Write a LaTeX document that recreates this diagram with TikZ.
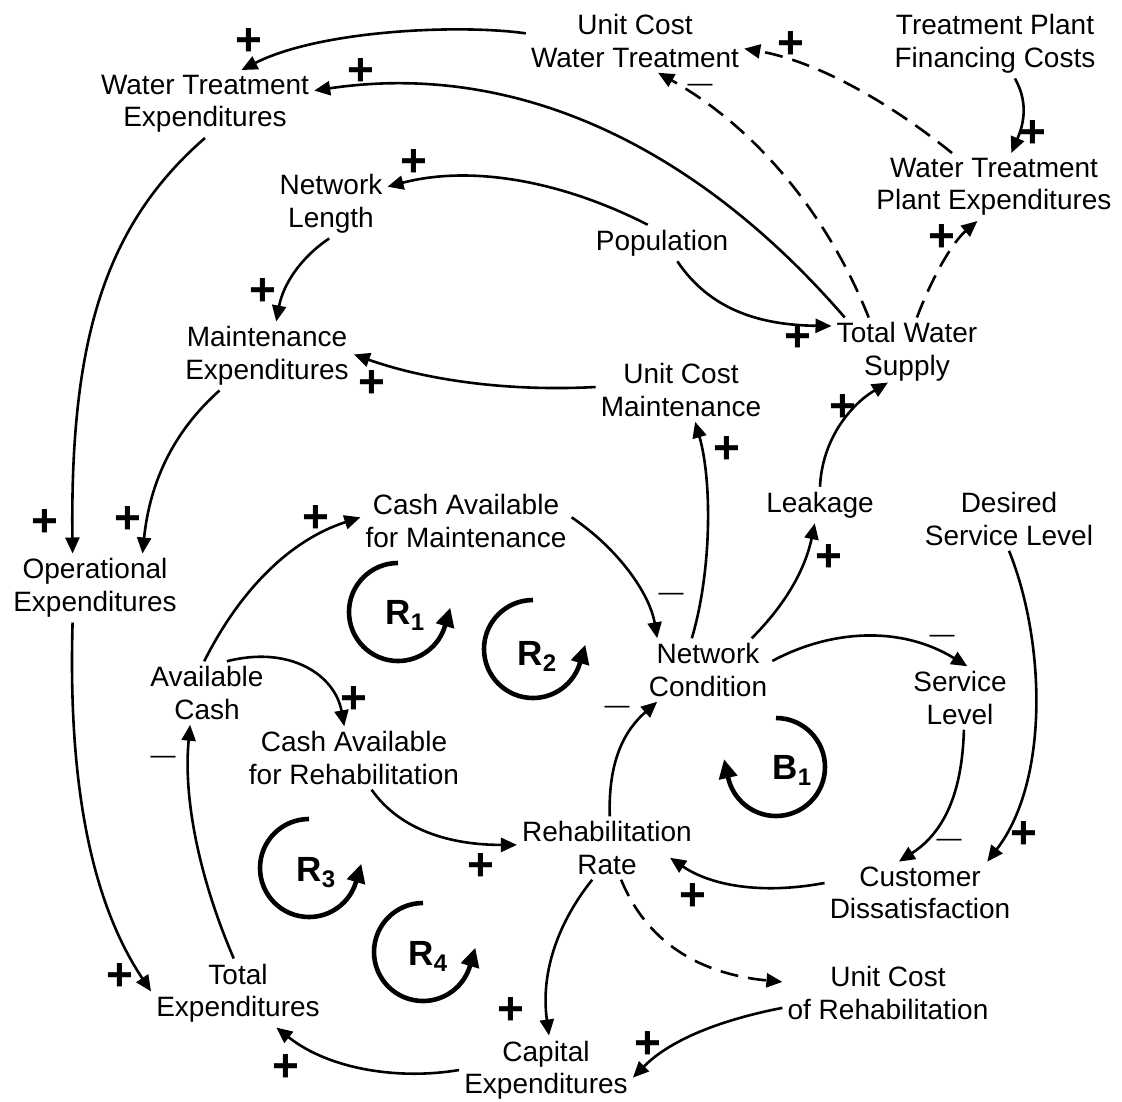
\documentclass[tikz,border=0pt]{standalone}
\usepackage{fontspec}
\setmainfont{Liberation Sans}
\usetikzlibrary{arrows.meta}
\begin{document}
\begin{tikzpicture}[x=1pt,y=-1pt,
  var/.style={align=center, inner sep=5pt, font=\fontsize{28}{32.5}\selectfont},
  link/.style={line width=2.6pt, -{Triangle[length=16pt,width=14pt]}},
  delay/.style={link, dash pattern=on 18pt off 10pt},
  plussign/.style={font=\fontsize{46}{46}\selectfont\bfseries, inner sep=0pt},
  minussign/.style={font=\fontsize{25}{25}\selectfont, inner sep=0pt},
  loopline/.style={line width=4.6pt, -{Triangle[length=19pt,width=18pt]}},
  looplabel/.style={font=\fontsize{35}{35}\selectfont\bfseries, inner sep=0pt}]
\useasboundingbox (0,0) rectangle (1122,1101);

% variables
\node[var] (wte)  at (205,104)  {Water Treatment\\Expenditures};
\node[var] (ucwt) at (635,41)   {Unit Cost\\Water Treatment};
\node[var] (tpfc) at (995,44)   {Treatment Plant\\Financing Costs};
\node[var] (wtpe) at (994,187)  {Water Treatment\\Plant Expenditures};
\node[var] (nl)   at (331,204)  {Network\\Length};
\node[var] (pop)  at (662,243)  {Population};
\node[var] (tws)  at (907,352)  {Total Water\\Supply};
\node[var] (me)   at (267,356)  {Maintenance\\Expenditures};
\node[var] (ucm)  at (681,390)  {Unit Cost\\Maintenance};
\node[var] (leak) at (820,505)  {Leakage};
\node[var] (dsl)  at (1009,519) {Desired\\Service Level};
\node[var] (cam)  at (466,521)  {Cash Available\\for Maintenance};
\node[var] (oe)   at (95,588)   {Operational\\Expenditures};
\node[var] (nc)   at (708,670)  {Network\\Condition};
\node[var] (sl)   at (960,698)  {Service\\Level};
\node[var] (ac)   at (207,693)  {Available\\Cash};
\node[var] (car)  at (354,758)  {Cash Available\\for Rehabilitation};
\node[var] (rr)   at (607,848)  {Rehabilitation\\Rate};
\node[var] (cd)   at (920,893)  {Customer\\Dissatisfaction};
\node[var] (te)   at (238,993)  {Total\\Expenditures};
\node[var] (ucr)  at (888,993)  {Unit Cost\\of Rehabilitation};
\node[var] (ce)   at (546,1070) {Capital\\Expenditures};

% causal links
\draw[link]  (ucwt.176) .. controls (460,24) and (320,30) .. (wte.43);
\draw[link]  (tws.151) .. controls (700,150) and (520,60) .. (wte.7);
\draw[link]  (tpfc.-60) .. controls (1030,105) and (1022,128) .. (wtpe.63);
\draw[delay] (wtpe.141) .. controls (880,95) and (810,60) .. (ucwt.-4);
\draw[delay] (tws.138) .. controls (830,220) and (760,130) .. (ucwt.-54);
\draw[delay] (tws.74) .. controls (935,270) and (955,240) .. (wtpe.-116);
\draw[link]  (pop.128) .. controls (560,180) and (470,165) .. (nl.17);
\draw[link]  (pop.-50) .. controls (710,310) and (760,325) .. (tws.161);
\draw[link]  (nl.-93) .. controls (300,258) and (283,285) .. (me.75);
\draw[link]  (ucm.178) .. controls (500,392) and (420,378) .. (me.1);
\draw[link]  (wte.-90) .. controls (105,225) and (70,340) .. (oe.123);
\draw[link]  (me.-144) .. controls (175,430) and (150,480) .. (oe.36);
\draw[link]  (oe.-123) .. controls (68,780) and (90,900) .. (te.179);
\draw[link]  (te.97) .. controls (200,880) and (183,800) .. (ac.-118);
\draw[link]  (ac.95) .. controls (240,590) and (290,540) .. (cam.178);
\draw[link]  (ac.58) .. controls (290,645) and (335,675) .. (car.107);
\draw[link]  (cam.2) .. controls (620,550) and (650,595) .. (nc.148);
\draw[link]  (nc.117) .. controls (712,570) and (712,480) .. (ucm.-66);
\draw[link]  (nc.36) .. controls (785,605) and (805,570) .. (leak.-106);
\draw[link]  (leak.90) .. controls (822,440) and (850,405) .. ([xshift=-19pt,yshift=4pt]tws.south);
\draw[link]  (nc.8) .. controls (830,630) and (900,625) .. (sl.77);
\draw[link]  (rr.85) .. controls (608,760) and (625,730) .. (nc.-148);
\draw[link]  (sl.-83) .. controls (962,800) and (940,835) .. (cd.124);
\draw[link]  (dsl.-90) .. controls (1045,640) and (1050,780) .. (cd.25);
\draw[link]  (cd.174) .. controls (760,895) and (710,885) .. ([xshift=-27pt,yshift=22pt]rr.south east);
\draw[link]  (car.-61) .. controls (400,830) and (450,845) .. (rr.178);
\draw[link]  (rr.-115) .. controls (560,920) and (540,970) .. (ce.85);
\draw[delay] (rr.-66) .. controls (650,950) and (710,975) .. (ucr.174);
\draw[link]  (ucr.-172) .. controls (720,1020) and (670,1040) .. (ce.-5);
\draw[link]  (ce.180) .. controls (400,1080) and (330,1070) .. (te.-42);

% polarities
\node[plussign] (p1)  at (249,42)   {+};
\node[plussign] (p2)  at (361,72)   {+};
\node[plussign] (p3)  at (414,163)  {+};
\node[plussign] (p4)  at (263,292)  {+};
\node[plussign] (p5)  at (372,384)  {+};
\node[plussign] (p6)  at (791,45)   {+};
\node[plussign] (p7)  at (1033,134) {+};
\node[plussign] (p8)  at (942,238)  {+};
\node[plussign] (p9)  at (798,338)  {+};
\node[plussign] (p10) at (843,408)  {+};
\node[plussign] (p11) at (45,523)   {+};
\node[plussign] (p12) at (128,520)  {+};
\node[plussign] (p13) at (316,519)  {+};
\node[plussign] (p14) at (354,700)  {+};
\node[plussign] (p15) at (727,450)  {+};
\node[plussign] (p16) at (829,558)  {+};
\node[plussign] (p17) at (1024,835) {+};
\node[plussign] (p18) at (693,897)  {+};
\node[plussign] (p19) at (648,1045) {+};
\node[plussign] (p20) at (481,867)  {+};
\node[plussign] (p21) at (511,1011) {+};
\node[plussign] (p22) at (120,977)  {+};
\node[plussign] (p23) at (286,1068) {+};
\node[minussign] (m1) at (700,88)  {—};
\node[minussign] (m2) at (163,760) {—};
\node[minussign] (m3) at (671,597) {—};
\node[minussign] (m4) at (942,639) {—};
\node[minussign] (m5) at (617,710) {—};
\node[minussign] (m6) at (949,843) {—};

% loop markers
\draw[loopline] (398,612) ++(0,-49) arc[start angle=-90, end angle=-345, radius=49] -- ++(5,-17);
\node[looplabel] (r1) at (405,615) {R\raisebox{-6pt}{\fontsize{24}{24}\selectfont 1}};
\draw[loopline] (533,649) ++(0,-49) arc[start angle=-90, end angle=-345, radius=49] -- ++(5,-17);
\node[looplabel] (r2) at (537,656) {R\raisebox{-6pt}{\fontsize{24}{24}\selectfont 2}};
\draw[loopline] (309,868) ++(0,-49) arc[start angle=-90, end angle=-345, radius=49] -- ++(5,-17);
\node[looplabel] (r3) at (316,873) {R\raisebox{-6pt}{\fontsize{24}{24}\selectfont 3}};
\draw[loopline] (423,952) ++(0,-49) arc[start angle=-90, end angle=-345, radius=49] -- ++(5,-17);
\node[looplabel] (r4) at (428,956) {R\raisebox{-6pt}{\fontsize{24}{24}\selectfont 4}};
\draw[loopline] (776,767) ++(0,-49) arc[start angle=-90, end angle=168, radius=49] -- ++(-4,-18);
\node[looplabel] (b1) at (792,770) {B\raisebox{-6pt}{\fontsize{24}{24}\selectfont 1}};
\end{tikzpicture}
\end{document}
